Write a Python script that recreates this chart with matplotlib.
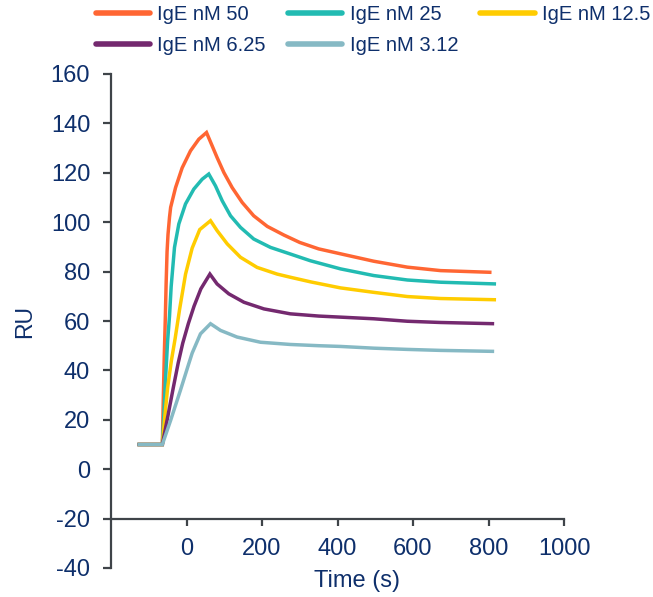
import matplotlib
matplotlib.use("Agg")
import matplotlib.pyplot as plt

plt.rcParams['font.family'] = ['Liberation Sans', 'DejaVu Sans']

labels = ["IgE nM 50", "IgE nM 25", "IgE nM 12.5", "IgE nM 6.25", "IgE nM 3.12"]
colors = ["#FF6633", "#22BBB2", "#FFCC00", "#74296F", "#86B9C4"]

t_50 = [-130, -64, -62, -59, -56, -54, -51.5, -49, -45, -42, -29, -11.5, 10.6, 32.6, 53,
        68, 81, 99, 121, 147.5, 178, 214, 258, 300, 350, 408, 496, 585, 673, 808]
v_50 = [10, 10, 25, 45, 62, 75, 88, 95, 102, 106, 114, 122, 128.9, 133.6, 136.3,
        130.9, 126.2, 120.1, 114, 108, 102.6, 98.3, 94.8, 91.8, 89.2, 87.2, 84.2, 81.8, 80.4, 79.7]

t_25 = [-130, -64, -60, -55, -50, -45, -40.6, -31.8, -20.3, -2.6, 19.4, 41.5, 59,
        76.8, 94.5, 116.6, 143, 178, 222.5, 275.5, 328, 408, 496, 585, 673, 820]
v_25 = [10, 10, 22, 38, 52, 62, 74, 89.8, 99.3, 107.4, 113.4, 117.4, 119.5,
        114.7, 108.7, 102.6, 97.9, 93.2, 89.8, 87.1, 84.4, 81.1, 78.4, 76.6, 75.7, 75.0]

t_12 = [-130, -64, -57, -50, -40, -30, -18, -2.5, 15, 35, 63.6,
        81, 108, 143, 187, 240, 275.5, 330, 408, 496, 585, 673, 820]
v_12 = [10, 10, 22, 33, 44, 53, 65, 79, 89.5, 97, 100.6,
        96.6, 91.2, 85.8, 81.7, 79, 77.7, 75.8, 73.4, 71.6, 69.9, 69.1, 68.6]

t_6 = [-130, -64, -50, -35, -22, -10, 5, 20, 38, 62,
       81, 112, 152, 205, 275, 350, 430, 496, 585, 673, 815]
v_6 = [10, 10, 21, 33, 43, 51, 59, 66, 73, 79,
       75, 71, 67.6, 64.9, 62.9, 62.0, 61.4, 60.9, 59.9, 59.4, 58.9]

t_3 = [-130, -64, -42, -16, 6, 15, 37, 63.6,
       90, 134, 196, 275, 350, 408, 496, 585, 673, 815]
v_3 = [10, 10, 19.8, 32, 42.7, 47, 54.8, 58.9,
       56.2, 53.5, 51.4, 50.5, 50.0, 49.7, 49, 48.5, 48.1, 47.7]

series_t = [t_50, t_25, t_12, t_6, t_3]
series_v = [v_50, v_25, v_12, v_6, v_3]

xticks = [0, 200, 400, 600, 800, 1000]
yticks = [-40, -20, 0, 20, 40, 60, 80, 100, 120, 140, 160]

W, H = 653, 597
fig = plt.figure(figsize=(W / 100, H / 100), dpi=100)
ax = fig.add_axes([111 / W, 1 - 568 / H, (564 - 111) / W, (568 - 74) / H])

text_color = "#0E2F6B"
spine_color = "#3F4449"

handles = []
for t, v, c, lab in zip(series_t, series_v, colors, labels):
    h, = ax.plot(t, v, color=c, lw=2.5, label=lab, solid_capstyle='butt', solid_joinstyle='miter')
    handles.append(h)

ax.set_xlim(-200, 1000)
ax.set_ylim(-40, 160)
ax.set_xticks(xticks)
ax.set_yticks(yticks)
ax.set_yticklabels([str(y) for y in yticks])

ax.spines['top'].set_visible(False)
ax.spines['right'].set_visible(False)
ax.spines['bottom'].set_position(('data', -20))
for s in ['left', 'bottom']:
    ax.spines[s].set_color(spine_color)
    ax.spines[s].set_linewidth(1.6)

ax.tick_params(axis='y', direction='out', length=6, width=1.6, color=spine_color,
               labelsize=17, labelcolor=text_color, pad=9)
ax.tick_params(axis='x', direction='out', length=5, width=1.6, color=spine_color,
               labelsize=17, labelcolor=text_color, pad=9)

ax.set_xlabel("Time (s)", fontsize=17, color=text_color)
ax.set_ylabel("RU", fontsize=16.5, color=text_color)
ax.xaxis.set_label_coords((357 - 111) / 453, -0.004)
ax.yaxis.set_label_coords(-0.165, 0.5)

order = [0, 3, 1, 4, 2]
leg = fig.legend(handles=[handles[i] for i in order], labels=[labels[i] for i in order],
                 loc='upper left', bbox_to_anchor=(96 / W, 1 - 5 / H), ncol=3, frameon=False,
                 fontsize=14.5, handlelength=2.7, handletextpad=0.35,
                 columnspacing=1.1, labelspacing=0.6, borderpad=0, borderaxespad=0)
for txt in leg.get_texts():
    txt.set_color(text_color)
for lh in leg.get_lines():
    lh.set_linewidth(4)
    lh.set_solid_capstyle('round')

fig.savefig("out.png", dpi=100)
